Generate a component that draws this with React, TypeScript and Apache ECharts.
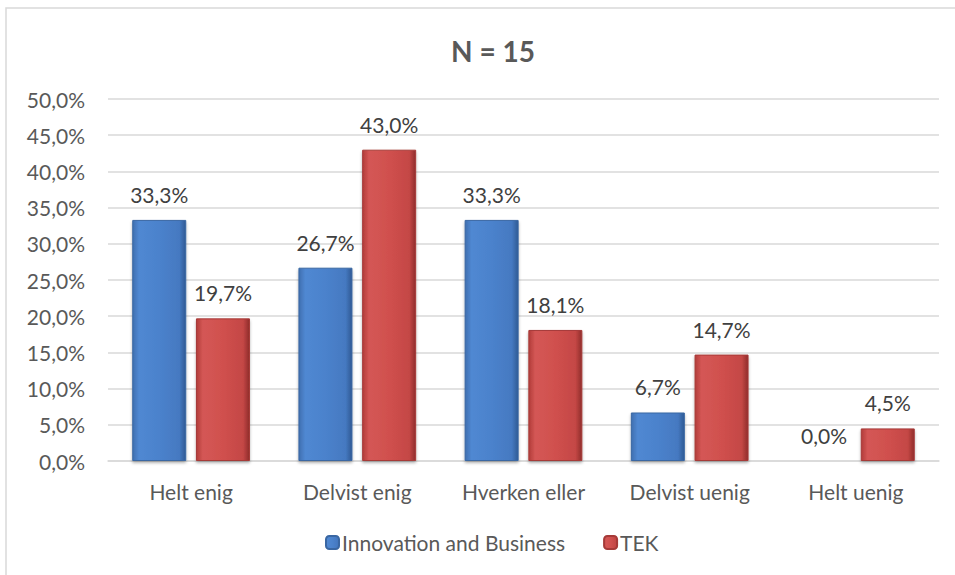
import React, { useEffect, useRef } from "react";
import * as echarts from "echarts";

const categories = ["Helt enig", "Delvist enig", "Hverken eller", "Delvist uenig", "Helt uenig"];
const innovation = [33.3, 26.7, 33.3, 6.7, 0.0];
const tek = [19.7, 43.0, 18.1, 14.7, 4.5];
const seriesNames = ["Innovation and Business", "TEK"];

const FONT = "Lato, 'Noto Sans', sans-serif";
const FS = 21;

const fmt = (v: number) => v.toFixed(1).replace(".", ",") + "%";

const blueGrad = new echarts.graphic.LinearGradient(0, 0, 1, 0, [
  { offset: 0, color: "#3f6fb0" },
  { offset: 0.12, color: "#5088d2" },
  { offset: 0.5, color: "#4b82cc" },
  { offset: 0.88, color: "#4579c1" },
  { offset: 1, color: "#2f5a94" },
]);
const redGrad = new echarts.graphic.LinearGradient(0, 0, 1, 0, [
  { offset: 0, color: "#b23c3a" },
  { offset: 0.12, color: "#d45755" },
  { offset: 0.5, color: "#d0504e" },
  { offset: 0.88, color: "#c44745" },
  { offset: 1, color: "#8f2d2b" },
]);

export default function App() {
  const ref = useRef<HTMLDivElement>(null);
  useEffect(() => {
    document.body.style.margin = "0";
    const chart = echarts.init(ref.current!, null, { renderer: "svg" });
    const labelCfg = {
      show: true,
      position: "top" as const,
      distance: 15,
      color: "#404040",
      fontSize: FS,
      fontFamily: FONT,
      formatter: (p: any) => fmt(p.value),
    };
    chart.setOption({
      animation: false,
      backgroundColor: "#ffffff",
      title: {
        text: "N = 15",
        left: 488,
        textAlign: "center",
        top: 32,
        textStyle: { color: "#595959", fontSize: 28, fontWeight: "bold", fontFamily: FONT },
      },
      graphic: [
        {
          type: "rect",
          shape: { x: 6, y: 8, width: 952, height: 572 },
          style: { fill: "none", stroke: "#d9d9d9", lineWidth: 1.5 },
          silent: true,
        },
      ],
      legend: {
        bottom: 17,
        left: 320,
        itemWidth: 13,
        itemHeight: 13,
        itemGap: 38,
        textStyle: { color: "#595959", fontSize: FS, fontFamily: FONT, padding: [0, 0, 0, -2] },
        data: seriesNames,
      },
      grid: { left: 108, right: 16, top: 99, bottom: 114 },
      xAxis: {
        type: "category",
        data: categories,
        axisLine: { lineStyle: { color: "#d9d9d9", width: 1.5 } },
        axisTick: { show: false },
        axisLabel: { color: "#595959", fontSize: FS, fontFamily: FONT, margin: 20 },
      },
      yAxis: {
        type: "value",
        min: 0,
        max: 50,
        interval: 5,
        axisLine: { show: false },
        axisTick: { show: false },
        splitLine: { lineStyle: { color: "#d9d9d9", width: 1.5 } },
        axisLabel: {
          color: "#595959",
          fontSize: FS,
          fontFamily: FONT,
          margin: 23,
          formatter: (v: number) => fmt(v),
        },
      },
      series: [
        {
          name: seriesNames[0],
          type: "bar",
          data: innovation,
          barWidth: 54,
          barGap: "18%",
          itemStyle: {
            color: blueGrad,
            borderColor: "#3a67a3",
            borderWidth: 1,
            shadowColor: "rgba(0,0,0,0.3)",
            shadowBlur: 3,
            shadowOffsetY: 2,
          },
          label: labelCfg,
        },
        {
          name: seriesNames[1],
          type: "bar",
          data: tek,
          barWidth: 54,
          barGap: "18%",
          itemStyle: {
            color: redGrad,
            borderColor: "#a63a38",
            borderWidth: 1,
            shadowColor: "rgba(0,0,0,0.3)",
            shadowBlur: 3,
            shadowOffsetY: 2,
          },
          label: labelCfg,
        },
      ],
    });
    return () => chart.dispose();
  }, []);
  return <div ref={ref} style={{ width: 955, height: 575 }} />;
}
